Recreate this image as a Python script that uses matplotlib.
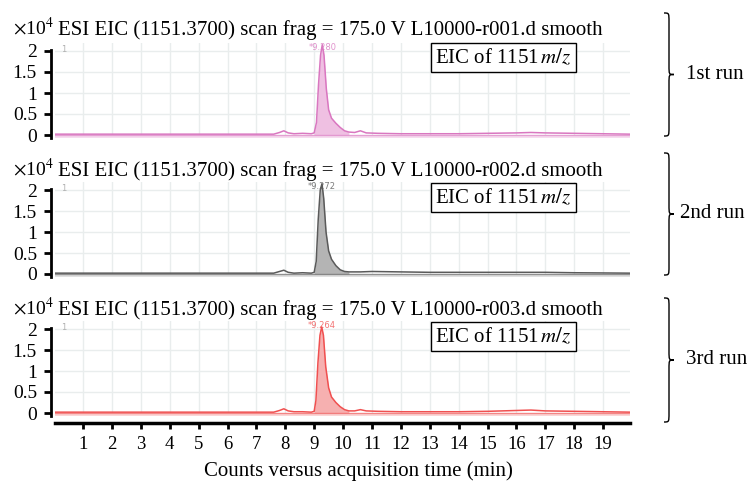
import matplotlib
matplotlib.use("Agg")
import matplotlib.pyplot as plt
from matplotlib.path import Path
from matplotlib.patches import PathPatch
import numpy as np

plt.rcParams['font.family'] = ['Liberation Serif', 'DejaVu Serif']
plt.rcParams['mathtext.fontset'] = 'stix'

# ---- data (intensity in units of 1e4 counts) ----
time_r1 = [0.03, 7.6, 7.8, 7.95, 8.1, 8.3, 8.6, 8.9, 9.0, 9.08, 9.15, 9.22, 9.28, 9.34, 9.42, 9.5, 9.6, 9.75, 9.9, 10.05, 10.2, 10.4, 10.6, 10.8, 11.2, 12.0, 13.0, 14.0, 15.0, 16.0, 16.5, 17.0, 18.0, 19.93]
int_r1 = [0.02, 0.02, 0.06, 0.10, 0.05, 0.03, 0.04, 0.03, 0.05, 0.3, 1.2, 1.9, 2.15, 1.9, 1.1, 0.6, 0.4, 0.28, 0.18, 0.1, 0.07, 0.06, 0.1, 0.05, 0.04, 0.03, 0.03, 0.03, 0.04, 0.05, 0.06, 0.05, 0.04, 0.02]

time_r2 = [0.03, 7.6, 7.8, 7.95, 8.1, 8.3, 8.6, 8.9, 9.0, 9.07, 9.14, 9.21, 9.27, 9.33, 9.41, 9.5, 9.6, 9.75, 9.9, 10.05, 10.2, 10.6, 11.0, 12.0, 13.0, 14.0, 15.0, 16.0, 17.0, 18.0, 19.93]
int_r2 = [0.02, 0.02, 0.06, 0.09, 0.04, 0.02, 0.03, 0.02, 0.04, 0.3, 1.3, 2.0, 2.15, 1.8, 1.0, 0.55, 0.35, 0.2, 0.1, 0.06, 0.05, 0.05, 0.06, 0.05, 0.04, 0.04, 0.04, 0.04, 0.04, 0.03, 0.02]

time_r3 = [0.03, 7.6, 7.8, 7.95, 8.1, 8.3, 8.6, 8.9, 9.0, 9.06, 9.13, 9.2, 9.26, 9.32, 9.4, 9.5, 9.6, 9.75, 9.9, 10.05, 10.2, 10.4, 10.6, 10.8, 11.2, 12.0, 13.0, 14.0, 15.0, 16.0, 16.5, 17.0, 18.0, 19.93]
int_r3 = [0.02, 0.02, 0.06, 0.10, 0.05, 0.03, 0.03, 0.02, 0.04, 0.3, 1.2, 1.85, 2.05, 1.85, 1.1, 0.6, 0.38, 0.25, 0.15, 0.08, 0.05, 0.05, 0.08, 0.05, 0.04, 0.03, 0.03, 0.03, 0.04, 0.06, 0.07, 0.05, 0.04, 0.02]

runs = [
    dict(t=time_r1, y=int_r1, file="L10000-r001.d", label="1st run", rt="9.280",
         line="#d977c0", fill="#efc0e2", band="#f6dcef"),
    dict(t=time_r2, y=int_r2, file="L10000-r002.d", label="2nd run", rt="9.272",
         line="#5a5a5a", fill="#b4b4b4", band="#e0e0e0"),
    dict(t=time_r3, y=int_r3, file="L10000-r003.d", label="3rd run", rt="9.264",
         line="#f05050", fill="#f6b0b0", band="#fad6d6"),
]
fill_range = (9.0, 10.2)
x_ticks = list(range(1, 20))
y_ticks = [0, 0.5, 1, 1.5, 2]

W, H = 754, 482
fig = plt.figure(figsize=(W / 100, H / 100), dpi=100)

def fx(px):
    return px / W

def fy(py):
    return 1 - py / H

zero_px = [135, 274, 413]
header_px = [35, 176, 315]
box_px = [63, 203, 342]
scale = 42.0
ylo, yhi = -0.08, 2.2
left_px, right_px = 55, 630
xlo, xhi = 0.03, 19.93

def brace(x0, top, bot, w=10, r=9):
    mid = (top + bot) / 2
    xm = x0 + w / 2
    pts = [(x0, top), (xm, top), (xm, top), (xm, top + r),
           (xm, mid - r),
           (xm, mid), (xm, mid), (x0 + w, mid),
           (xm, mid), (xm, mid), (xm, mid + r),
           (xm, bot - r),
           (xm, bot), (xm, bot), (x0, bot)]
    codes = [Path.MOVETO, Path.CURVE4, Path.CURVE4, Path.CURVE4,
             Path.LINETO,
             Path.CURVE4, Path.CURVE4, Path.CURVE4,
             Path.CURVE4, Path.CURVE4, Path.CURVE4,
             Path.LINETO,
             Path.CURVE4, Path.CURVE4, Path.CURVE4]
    verts = [(fx(a), fy(b)) for a, b in pts]
    p = PathPatch(Path(verts, codes), transform=fig.transFigure,
                  facecolor='none', edgecolor='black', lw=1.0)
    fig.patches.append(p)
    return mid

brace_spans = [(13, 136), (153, 275), (298, 422)]
label_x = [686, 680, 686]

for i, run in enumerate(runs):
    z = zero_px[i]
    bot_px = z - ylo * scale
    top_px = z - yhi * scale
    ax = fig.add_axes([fx(left_px), fy(bot_px), fx(right_px - left_px), (bot_px - top_px) / H])
    ax.set_xlim(xlo, xhi)
    ax.set_ylim(ylo, yhi)
    for xv in x_ticks:
        ax.axvline(xv, color='#e9eded', lw=1.0, zorder=0)
    for yv in y_ticks[1:]:
        ax.axhline(yv, color='#e9eded', lw=1.0, zorder=0)
    ax.axhspan(ylo, 0.0, color=run['band'], lw=0, zorder=1)
    t = np.array(run['t'])
    y = np.array(run['y'])
    m = (t >= fill_range[0]) & (t <= fill_range[1])
    ax.fill_between(t[m], 0, y[m], color=run['fill'], lw=0, zorder=2)
    ax.plot(t, y, color=run['line'], lw=1.1, zorder=3)
    ax.axhline(0, color=run['line'], lw=1.0, alpha=0.6, zorder=2)
    ipk = int(np.argmax(y))
    ax.text(t[ipk], yhi - 0.01, "*" + run['rt'], color=run['line'], fontsize=6,
            ha='center', va='top', alpha=0.8, family='DejaVu Sans', zorder=4)
    ax.text(0.25, 2.15, "1", color='#b0b0b0', fontsize=6, ha='left', va='top', family='DejaVu Sans')
    for s in ['top', 'right']:
        ax.spines[s].set_visible(False)
    ax.spines['left'].set_position(('outward', 3))
    ax.spines['left'].set_linewidth(2.0)
    ax.spines['left'].set_bounds(ylo, 2.02)
    ax.set_yticks(y_ticks)
    ax.set_yticklabels(['0', '0.5', '1', '1.5', '2'])
    ax.tick_params(axis='y', direction='out', length=5, width=2, labelsize=14, pad=5)
    if i < 2:
        ax.spines['bottom'].set_visible(False)
        ax.set_xticks([])
    else:
        ax.spines['bottom'].set_position(('outward', 5))
        ax.spines['bottom'].set_linewidth(2.5)
        ax.set_xticks(x_ticks)
        ax.tick_params(axis='x', direction='out', length=4, width=2, labelsize=13.5, pad=5)
        ax.set_xlabel("Counts versus acquisition time (min)", fontsize=15, labelpad=4)
        ax.xaxis.set_label_coords((358 - left_px) / (right_px - left_px), -0.47)
    fig.text(fx(13), fy(header_px[i]), r"$\times$10$^4$", fontsize=14, ha='left', va='baseline')
    fig.text(fx(58), fy(header_px[i]), "ESI EIC (1151.3700) scan frag = 175.0 V " + run['file'] + " smooth",
             fontsize=15, ha='left', va='baseline')
    fig.text(fx(435), fy(box_px[i]), r"EIC of 1151$\,m/z$", fontsize=15, ha='left', va='baseline',
             bbox=dict(boxstyle='square,pad=0.2', facecolor='white', edgecolor='black', lw=1.0))
    b0, b1 = brace_spans[i]
    mid = brace(664, b0, b1)
    fig.text(fx(label_x[i]), fy(mid), run['label'], fontsize=15, ha='left', va='center')

fig.savefig("out.png", dpi=100)
